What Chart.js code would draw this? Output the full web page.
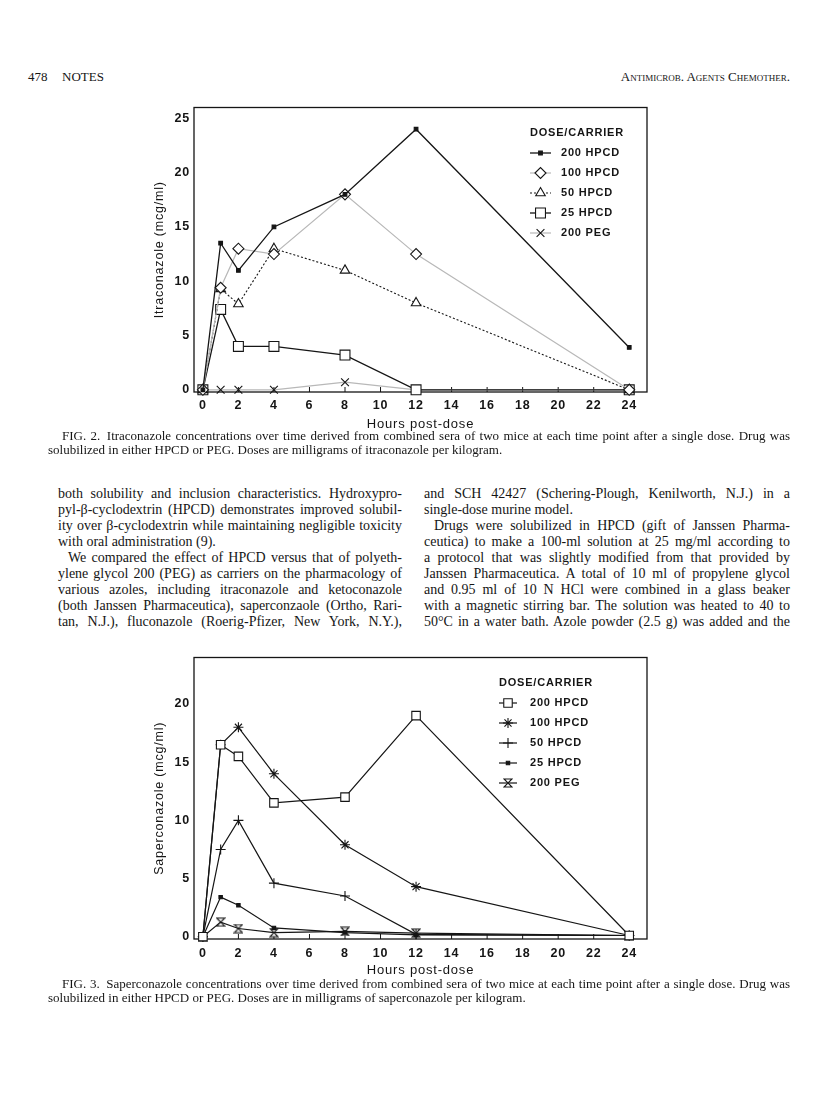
<!DOCTYPE html>
<html>
<head>
<meta charset="utf-8">
<script src="https://cdn.jsdelivr.net/npm/chart.js"></script>
<style>
  body { margin: 0; background: #fff; width: 816px; height: 1093px; position: relative; overflow: hidden;
         font-family: "Liberation Serif", "Times New Roman", serif; color: #151515; }
  .t { position: absolute; white-space: nowrap; }
  .ln { position: absolute; white-space: nowrap; font-size: 14px; line-height: 16px;
        text-align: justify; text-align-last: justify; }
  .cap { position: absolute; white-space: nowrap; font-size: 13px; line-height: 14px;
         text-align: justify; text-align-last: justify; }
  .end { text-align-last: left; }
  canvas { position: absolute; }
</style>
</head>
<body>

<div class="t" style="left:28px;top:69px;font-size:13px;">478</div>
<div class="t" style="left:62px;top:69px;font-size:13px;">NOTES</div>
<div class="t" style="right:26px;top:69px;font-size:13px;font-variant:small-caps;">Antimicrob. Agents Chemother.</div>

<canvas id="fig2" width="560" height="338" style="left:130px;top:96px;"></canvas>
<div id="cap2"></div>
<div id="body"></div>
<canvas id="fig3" width="560" height="336" style="left:130px;top:646px;"></canvas>
<div id="cap3"></div>

<script>
// time points (hours post-dose)
let hours = [0, 1, 2, 4, 8, 12, 24];
let xTicks = [0, 2, 4, 6, 8, 10, 12, 14, 16, 18, 20, 22, 24];

// FIG. 2 - itraconazole (mcg/ml)
let itra200Hpcd = [0, 13.5, 11, 15, 18, 24, 3.9];
let itra100Hpcd = [0, 9.4, 13, 12.5, 18, 12.5, 0];
let itra50Hpcd = [0, 9.3, 7.9, 13, 11, 8, 0];
let itra25Hpcd = [0, 7.4, 4, 4, 3.2, 0, 0];
let itra200Peg = [0, 0, 0, 0, 0.7, 0, 0];
let itraTicks = [0, 5, 10, 15, 20, 25];

// FIG. 3 - saperconazole (mcg/ml)
let saper200Hpcd = [0, 16.5, 15.5, 11.5, 12, 19, 0.1];
let saper100Hpcd = [0, 16.5, 18, 14, 7.9, 4.3, 0.1];
let saper50Hpcd = [0, 7.5, 10, 4.6, 3.5, 0.2, 0.1];
let saper25Hpcd = [0, 3.4, 2.7, 0.75, 0.35, 0.15, 0.1];
let saper200Peg = [0, 1.25, 0.7, 0.35, 0.45, 0.3, 0.1];
let saperTicks = [0, 5, 10, 15, 20];

let ink = "#151515";
let light = "#b8b8b8";

function puntos(valores) {
  return hours.map((h, i) => ({ x: h, y: valores[i] }));
}

// hourglass marker for 200 PEG
function hourglass(size) {
  let c = document.createElement("canvas");
  c.width = size; c.height = size;
  let g = c.getContext("2d");
  let p = 1, q = size - 1;
  g.beginPath();
  g.moveTo(p, p); g.lineTo(q, p); g.lineTo(p, q); g.lineTo(q, q); g.closePath();
  g.fillStyle = "#fff"; g.fill();
  g.strokeStyle = ink; g.lineWidth = 1.1; g.stroke();
  return c;
}

function serie(label, valores, estilo) {
  return Object.assign({
    label,
    data: puntos(valores),
    borderColor: ink,
    borderWidth: 1.2,
    pointBackgroundColor: "#fff",
    pointBorderColor: ink,
    pointBorderWidth: 1.1,
    tension: 0,
    clip: false,
  }, estilo);
}

// frame around plot + small inward ticks on the x axis
let marco = {
  id: "marco",
  beforeDatasetsDraw(chart) {
    let { ctx, chartArea: a, scales } = chart;
    ctx.save();
    ctx.strokeStyle = ink;
    ctx.lineWidth = 1.3;
    ctx.strokeRect(a.left, a.top, a.right - a.left, a.bottom - a.top);
    ctx.lineWidth = 1;
    for (let t of scales.x.ticks) {
      let px = scales.x.getPixelForValue(t.value);
      ctx.beginPath();
      ctx.moveTo(px, a.bottom);
      ctx.lineTo(px, a.bottom - 5);
      ctx.stroke();
    }
    ctx.restore();
  },
};

let espaciado = {
  id: "espaciado",
  beforeLayout(chart) { chart.ctx.letterSpacing = "0.8px"; },
  beforeDraw(chart) { chart.ctx.letterSpacing = "0.8px"; },
};

// legend with line sample + marker, like the original figure
let leyenda = {
  id: "leyenda",
  afterDraw(chart, args, o) {
    let ctx = chart.ctx;
    ctx.save();
    ctx.textBaseline = "middle";
    ctx.fillStyle = ink;
    ctx.font = 'bold 11px "Liberation Sans", Arial, sans-serif';
    ctx.fillText("DOSE/CARRIER", o.x, o.y);
    chart.data.datasets.forEach((ds, i) => {
      let y = o.y + o.step * (i + 1);
      ctx.strokeStyle = ds.borderColor;
      ctx.lineWidth = ds.borderWidth;
      ctx.setLineDash(ds.borderDash || []);
      ctx.beginPath();
      ctx.moveTo(o.x, y);
      ctx.lineTo(o.x + o.lineLen, y);
      ctx.stroke();
      ctx.setLineDash([]);
      ctx.strokeStyle = ds.pointBorderColor;
      ctx.fillStyle = ds.pointBackgroundColor;
      ctx.lineWidth = ds.pointBorderWidth;
      Chart.helpers.drawPoint(ctx, {
        pointStyle: ds.pointStyle, radius: ds.pointRadius,
        borderWidth: ds.pointBorderWidth, rotation: 0,
      }, o.x + o.lineLen / 2, y);
      ctx.fillStyle = ink;
      ctx.fillText(ds.label, o.x + o.textGap, y);
    });
    ctx.restore();
  },
};

function renderGrafico(id, tituloY, yMax, yTicks, datasets, cfg) {
  let fuenteTick = { family: '"Liberation Sans", Arial, sans-serif', size: 12.5, weight: "bold" };
  return new Chart(document.getElementById(id), {
    type: "line",
    data: { datasets },
    plugins: [espaciado, marco, leyenda],
    options: {
      responsive: false,
      animation: false,
      devicePixelRatio: 1,
      layout: { padding: { top: 10, right: 43, left: 0, bottom: 0 } },
      plugins: {
        legend: { display: false },
        tooltip: { enabled: false },
        leyenda: cfg.legend,
      },
      scales: {
        x: {
          type: "linear",
          min: -0.5,
          max: 25,
          afterBuildTicks: (s) => { s.ticks = xTicks.map((v) => ({ value: v })); },
          afterFit: (s) => { s.height = cfg.xHeight; },
          grid: { display: false, drawTicks: false },
          border: { display: false },
          ticks: { color: ink, font: fuenteTick, padding: cfg.xPad, autoSkip: false, maxRotation: 0 },
          title: {
            display: true, text: "Hours post-dose", color: ink,
            font: { family: '"Liberation Sans", Arial, sans-serif', size: 13 },
            padding: { top: 0, bottom: cfg.titlePad },
          },
        },
        y: {
          min: -0.2,
          max: yMax,
          afterBuildTicks: (s) => { s.ticks = yTicks.map((v) => ({ value: v })); },
          afterFit: (s) => { s.width = 64; },
          grid: { display: false, drawTicks: false },
          border: { display: false },
          ticks: { color: ink, font: fuenteTick, padding: 4 },
          title: {
            display: true, text: tituloY, color: ink,
            font: { family: '"Liberation Sans", Arial, sans-serif', size: 12.5 },
            padding: { top: 22, bottom: 0 },
          },
        },
      },
    },
  });
}

renderGrafico("fig2", "Itraconazole (mcg/ml)", 26, itraTicks, [
  serie("200 HPCD", itra200Hpcd, { borderWidth: 1.3, pointStyle: "rect", pointRadius: 2.6, pointBackgroundColor: ink }),
  serie("100 HPCD", itra100Hpcd, { borderColor: light, pointStyle: "rectRot", pointRadius: 5.5 }),
  serie("50 HPCD", itra50Hpcd, { borderWidth: 1.1, borderDash: [2, 2], pointStyle: "triangle", pointRadius: 5.5 }),
  serie("25 HPCD", itra25Hpcd, { borderWidth: 1.3, pointStyle: "rect", pointRadius: 7 }),
  serie("200 PEG", itra200Peg, { borderColor: light, pointStyle: "crossRot", pointRadius: 5.5 }),
], { xHeight: 42, xPad: 6, titlePad: 2, legend: { x: 400, y: 37, step: 20, lineLen: 21, textGap: 31 } });

renderGrafico("fig3", "Saperconazole (mcg/ml)", 24, saperTicks, [
  serie("200 HPCD", saper200Hpcd, { pointStyle: "rect", pointRadius: 6 }),
  serie("100 HPCD", saper100Hpcd, { pointStyle: "star", pointRadius: 5 }),
  serie("50 HPCD", saper50Hpcd, { pointStyle: "cross", pointRadius: 5 }),
  serie("25 HPCD", saper25Hpcd, { pointStyle: "rect", pointRadius: 2.4, pointBackgroundColor: ink }),
  serie("200 PEG", saper200Peg, { pointStyle: hourglass(10), pointRadius: 5 }),
], { xHeight: 43, xPad: 7, titlePad: 4, legend: { x: 369, y: 37, step: 20, lineLen: 18, textGap: 31 } });

// captions and body text
let cap2 = [
  "FIG. 2.\u2002Itraconazole concentrations over time derived from combined sera of two mice at each time point after a single dose. Drug was",
  "solubilized in either HPCD or PEG. Doses are milligrams of itraconazole per kilogram.",
];
let cap3 = [
  "FIG. 3.\u2002Saperconazole concentrations over time derived from combined sera of two mice at each time point after a single dose. Drug was",
  "solubilized in either HPCD or PEG. Doses are in milligrams of saperconazole per kilogram.",
];
let colIzq = [
  ["both solubility and inclusion characteristics. Hydroxypro-", 0, 0],
  ["pyl-\u03b2-cyclodextrin (HPCD) demonstrates improved solubil-", 0, 0],
  ["ity over \u03b2-cyclodextrin while maintaining negligible toxicity", 0, 0],
  ["with oral administration (9).", 0, 1],
  ["We compared the effect of HPCD versus that of polyeth-", 1, 0],
  ["ylene glycol 200 (PEG) as carriers on the pharmacology of", 0, 0],
  ["various azoles, including itraconazole and ketoconazole", 0, 0],
  ["(both Janssen Pharmaceutica), saperconzaole (Ortho, Rari-", 0, 0],
  ["tan, N.J.), fluconazole (Roerig-Pfizer, New York, N.Y.),", 0, 0],
];
let colDer = [
  ["and SCH 42427 (Schering-Plough, Kenilworth, N.J.) in a", 0, 0],
  ["single-dose murine model.", 0, 1],
  ["Drugs were solubilized in HPCD (gift of Janssen Pharma-", 1, 0],
  ["ceutica) to make a 100-ml solution at 25 mg/ml according to", 0, 0],
  ["a protocol that was slightly modified from that provided by", 0, 0],
  ["Janssen Pharmaceutica. A total of 10 ml of propylene glycol", 0, 0],
  ["and 0.95 ml of 10 N HCl were combined in a glass beaker", 0, 0],
  ["with a magnetic stirring bar. The solution was heated to 40 to", 0, 0],
  ["50\u00b0C in a water bath. Azole powder (2.5 g) was added and the", 0, 0],
];

// one text line; full lines are justified, squeezed a little if too long
function linea(parent, clase, texto, left, width, top, fin) {
  let d = document.createElement("div");
  d.className = clase + (fin ? " end" : "");
  d.textContent = texto;
  d.style.left = left + "px";
  d.style.top = top + "px";
  parent.appendChild(d);
  if (!fin) {
    let natural = d.getBoundingClientRect().width;
    if (natural > width) {
      d.style.letterSpacing = ((width - natural) / texto.length).toFixed(3) + "px";
    }
    d.style.width = width + "px";
  }
}

function caption(id, lineas, top) {
  let el = document.getElementById(id);
  linea(el, "cap", lineas[0], 62, 728, top, false);
  linea(el, "cap", lineas[1], 48, 742, top + 14, true);
}
caption("cap2", cap2, 429);
caption("cap3", cap3, 977);

let cuerpo = document.getElementById("body");
function columna(lineas, left, width) {
  lineas.forEach(([txt, sangria, fin], i) => {
    let ind = sangria ? 10 : 0;
    linea(cuerpo, "ln", txt, left + ind, width - ind, 486 + i * 16, fin);
  });
}
columna(colIzq, 58, 344);
columna(colDer, 424, 366);
</script>
</body>
</html>
